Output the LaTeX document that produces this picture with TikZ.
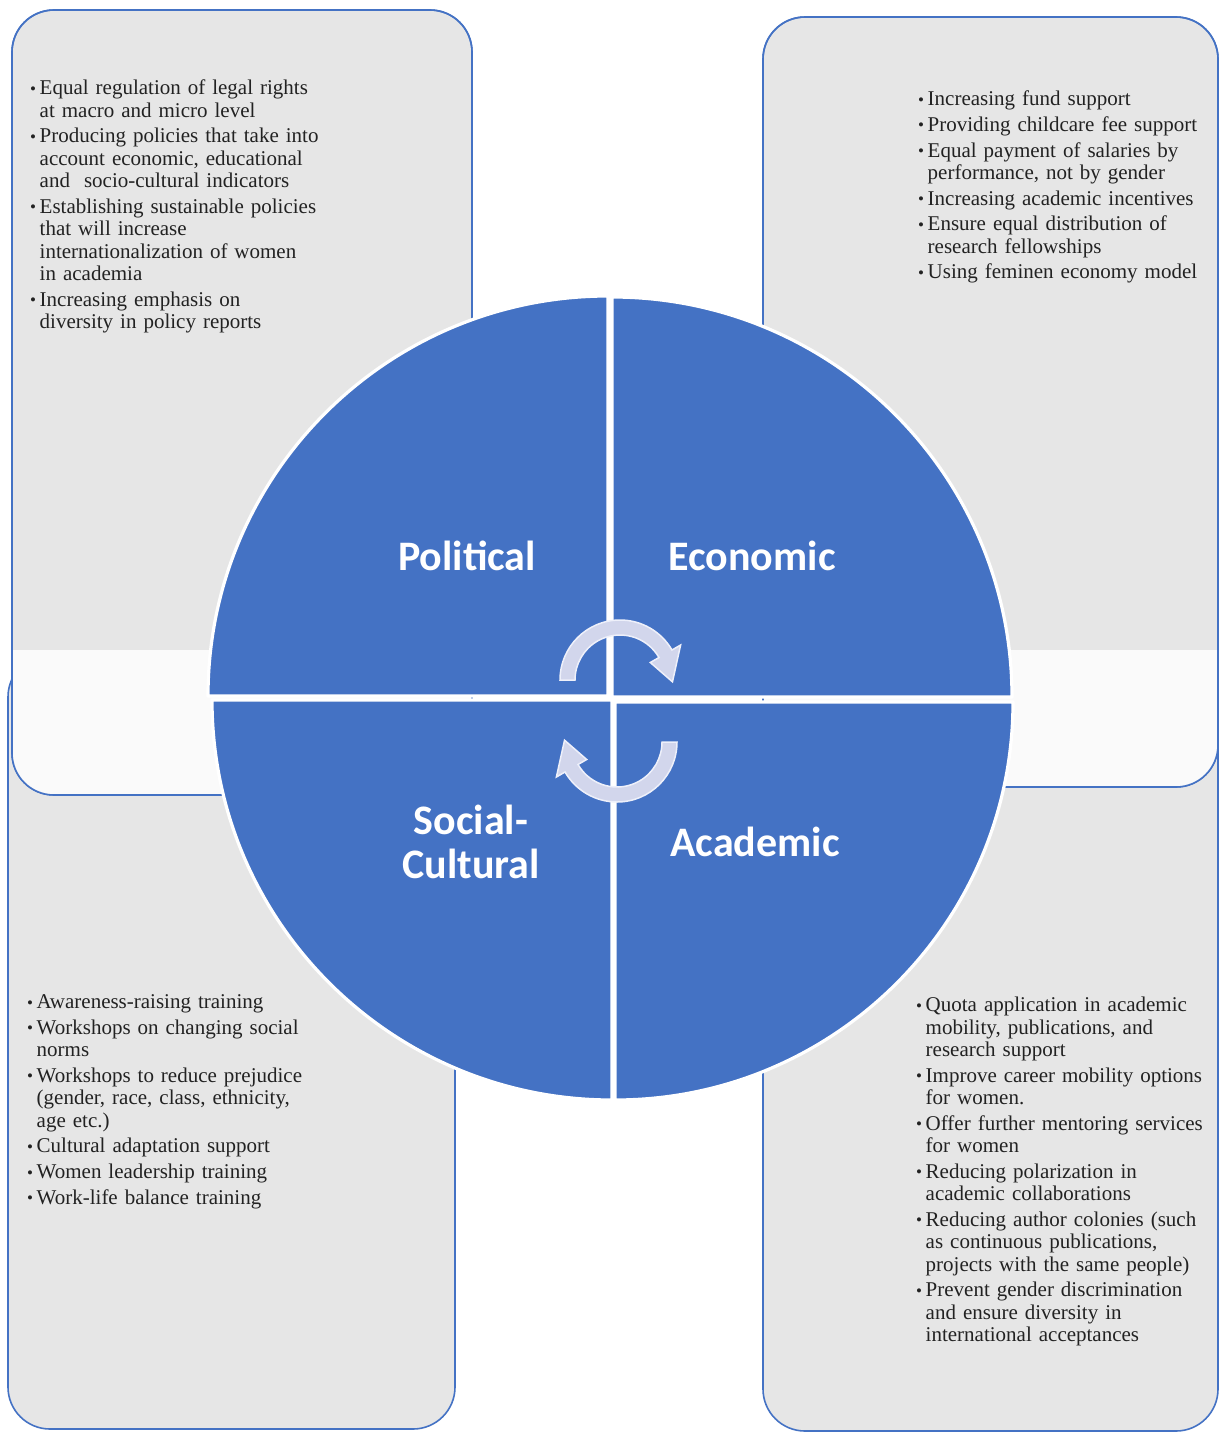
\documentclass[tikz,border=0pt]{standalone}
\usepackage{fontspec}
\setmainfont{Liberation Serif}
\newfontfamily\labelfont{Carlito}
\usetikzlibrary{calc}
\definecolor{boxblue}{HTML}{4472C4}
\definecolor{boxgray}{HTML}{E6E6E6}
\definecolor{bandwhite}{HTML}{FAFAFA}
\definecolor{circblue}{HTML}{4472C4}
\definecolor{arrowfill}{HTML}{D2D6EC}
\definecolor{arrowedge}{HTML}{EEF0FA}
\definecolor{txt}{HTML}{222222}
\makeatletter
\newcommand{\bitem}[1]{\par\hangindent=9.5pt\hangafter=1\noindent\makebox[9.5pt][l]{\raisebox{0.5pt}{\fontsize{17}{17}\selectfont\textbullet}}\strut{\let\\\@normalcr#1}\par\vspace{3.3pt}}
\makeatother
\tikzset{
  infobox/.style={fill=boxgray, draw=boxblue, line width=1.6pt, rounded corners=42pt},
  quad/.style={fill=circblue, draw=white, line width=3.2pt, line join=round},
  textblock/.style={anchor=north west, inner sep=0pt, text=txt, font=\fontsize{21}{22.4}\selectfont\raggedright},
  seglabel/.style={text=white, font=\labelfont\bfseries\fontsize{42}{44}\selectfont, align=center, inner sep=0pt},
  cycarrow/.style={fill=arrowfill, draw=arrowedge, line width=1.5pt, line join=miter}
}
\begin{document}
\begin{tikzpicture}[x=1pt, y=-1pt]
\useasboundingbox[fill=white] (0,0) rectangle (1219,1432);
% bottom boxes (behind)
\path[infobox] (8,655) rectangle (455,1429);
\path[infobox] (763,690) rectangle (1218,1431);
% top boxes with a lighter lower band
\path[infobox] (12,10) rectangle (472,795);
\begin{scope}
  \clip[rounded corners=42pt] (12,10) rectangle (472,795);
  \fill[bandwhite] (12,650) rectangle (472,793.5);
\end{scope}
\path[draw=boxblue, line width=1.6pt, rounded corners=42pt] (12,10) rectangle (472,795);
\path[infobox] (763,17) rectangle (1218,787);
\begin{scope}
  \clip[rounded corners=42pt] (763,17) rectangle (1218,787);
  \fill[bandwhite] (763,650) rectangle (1218,785.5);
\end{scope}
\path[draw=boxblue, line width=1.6pt, rounded corners=42pt] (763,17) rectangle (1218,787);

% circle quadrants
\path[quad] (608,696) -- ++(180:400) arc[start angle=180, end angle=270, radius=400] -- cycle;
\path[quad] (612,697) -- ++(270:400) arc[start angle=270, end angle=360, radius=400] -- cycle;
\path[quad] (612,700) -- ++(90:400) arc[start angle=90, end angle=180, radius=400] -- cycle;
\path[quad] (615,702) -- ++(0:398) arc[start angle=0, end angle=90, radius=398] -- cycle;

% cycle arrows
\coordinate (c1) at (620,680);
\coordinate (c2) at (617,742);
\path[cycarrow] ($(c1)+(180:60)$) arc[start angle=180, end angle=330, radius=60]
  -- ($(c1)+(330:70)$) -- ($(c1)+(2:52.5)$) -- ($(c1)+(330:35)$) -- ($(c1)+(330:45)$)
  arc[start angle=330, end angle=180, radius=45] -- cycle;
\path[cycarrow] ($(c2)+(0:60)$) arc[start angle=0, end angle=150, radius=60]
  -- ($(c2)+(150:70)$) -- ($(c2)+(182:52.5)$) -- ($(c2)+(150:35)$) -- ($(c2)+(150:45)$)
  arc[start angle=150, end angle=0, radius=45] -- cycle;

% segment labels
\node[seglabel] (pol) at (467,556) {Political};
\node[seglabel] (eco) at (752,556) {Economic};
\node[seglabel] (soc) at (471,842) {Social-\\Cultural};
\node[seglabel] (aca) at (755,842) {Academic};

% text blocks
\node[textblock, text width=330pt] (tltext) at (30,72) {%
\bitem{Equal regulation of legal rights\\at macro and micro level}
\bitem{Producing policies that take into\\account economic, educational\\and \ socio-cultural indicators}
\bitem{Establishing sustainable policies\\that will increase\\internationalization of women\\in academia}
\bitem{Increasing emphasis on\\diversity in policy reports}};

\node[textblock, text width=300pt] (trtext) at (918,83) {%
\bitem{Increasing fund support}
\bitem{Providing childcare fee support}
\bitem{Equal payment of salaries by\\performance, not by gender}
\bitem{Increasing academic incentives}
\bitem{Ensure equal distribution of\\research fellowships}
\bitem{Using feminen economy model}};

\node[textblock, text width=330pt] (bltext) at (27,986) {%
\bitem{Awareness-raising training}
\bitem{Workshops on changing social\\norms}
\bitem{Workshops to reduce prejudice\\(gender, race, class, ethnicity,\\age etc.)}
\bitem{Cultural adaptation support}
\bitem{Women leadership training}
\bitem{Work-life balance training}};

\node[textblock, text width=300pt] (brtext) at (916,989) {%
\bitem{Quota application in academic\\mobility, publications, and\\research support}
\bitem{Improve career mobility options\\for women.}
\bitem{Offer further mentoring services\\for women}
\bitem{Reducing polarization in\\academic collaborations}
\bitem{Reducing author colonies (such\\as continuous publications,\\projects with the same people)}
\bitem{Prevent gender discrimination\\and ensure diversity in\\international acceptances}};
\end{tikzpicture}
\end{document}
